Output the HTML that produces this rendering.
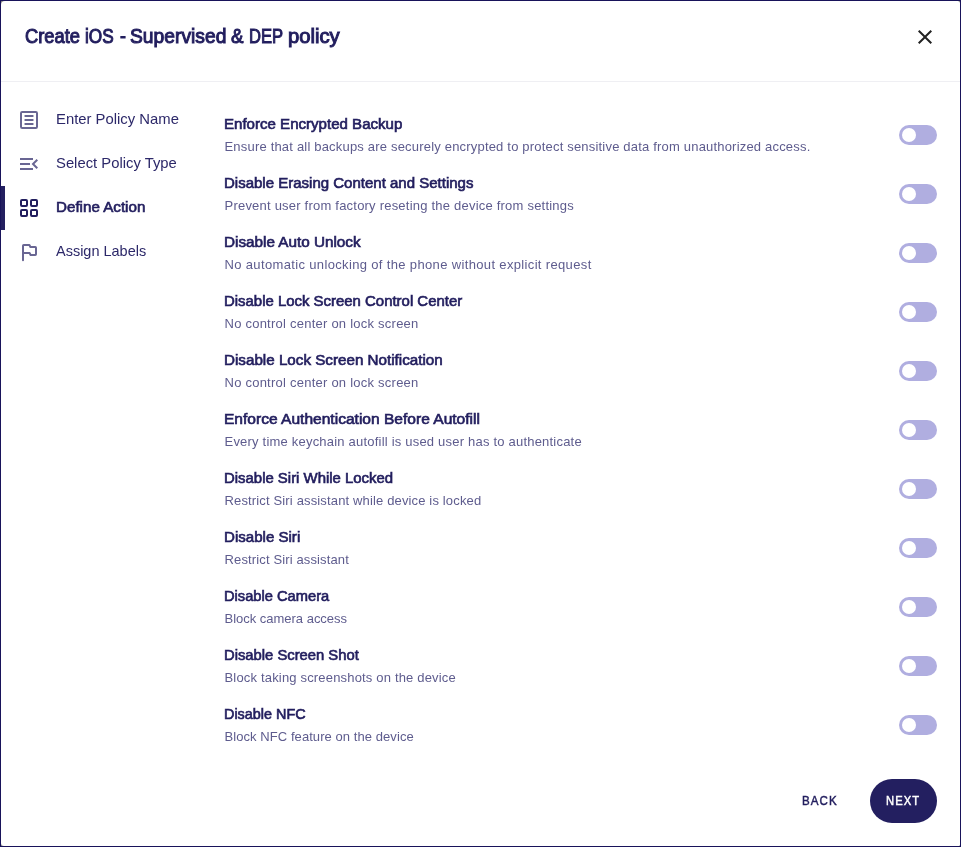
<!DOCTYPE html>
<html lang="en">
<head>
<meta charset="utf-8">
<title>Create iOS - Supervised &amp; DEP policy</title>
<style>
  html, body { margin: 0; padding: 0; }
  body {
    width: 961px; height: 847px; overflow: hidden; position: relative;
    background: #808080;
    font-family: "Liberation Sans", "DejaVu Sans", sans-serif;
    color: #221e5e;
  }
  .dialog {
    position: absolute; left: 1px; top: 1px; width: 959px; height: 845px;
    background: #fff; border-radius: 4px 2.5px 1.5px 3px; overflow: hidden;
  }
  .frame { position: absolute; left: 0; top: 0; width: 959px; height: 845px; border: 1px solid #18135a; pointer-events: none; }
  .t { position: absolute; white-space: nowrap; transform-origin: 0 50%; line-height: 20px; height: 20px; }
  .header-title { position: absolute; left: 0; top: 13px; height: 44px; width: 600px; font-size: 19.9px; font-weight: normal; -webkit-text-stroke: 1px #221e5e; color: #221e5e; }
  .header-title .t { top: 0; height: 44px; line-height: 44px; }
  .close { position: absolute; left: 912px; top: 24px; width: 24px; height: 24px; }
  .divider { position: absolute; left: 0; top: 80px; width: 959px; height: 1px; background: #efeff3; }

  .nav-item { position: absolute; left: 0; width: 210px; height: 44px; }
  .nav-item svg { position: absolute; left: 16px; top: 10px; width: 24px; height: 24px; fill: #696693; }
  .nav-item .t { left: 55px; top: 11px; font-size: 15px; color: #2c2869; }
  .nav-item.active .t { -webkit-text-stroke: 0.65px #221e5e; color: #221e5e; }
  .nav-item.active svg { fill: #221e5e; }
  .nav-item.active::before { content: ""; position: absolute; left: 0; top: 0; width: 4px; height: 44px; background: #231f60; }

  .row { position: absolute; left: 223.5px; width: 720.5px; height: 59px; }
  .row .title { left: -0.5px; top: 13px; font-size: 14.7px; font-weight: normal; -webkit-text-stroke: 0.65px #221e5e; color: #221e5e; }
  .row .desc { left: 0; top: 36px; font-size: 13px; color: #5e5c8e; }
  .toggle { position: absolute; left: 674.5px; top: 24px; width: 38px; height: 20px; border-radius: 10px; background: #b0aee0; }
  .toggle::after { content: ""; position: absolute; left: 3px; top: 3px; width: 14px; height: 14px; border-radius: 50%; background: #fff; }

  .btn { position: absolute; height: 44px; top: 778px; border-radius: 22px; font-size: 13.6px; font-weight: normal; -webkit-text-stroke: 0.5px; letter-spacing: 1.3px; }
  .btn .t { top: 12.4px; }
  .back { left: 784px; width: 70px; color: #221e5e; }
  .next { left: 869px; width: 67px; background: #231f60; color: #fff; }
</style>
</head>
<body>
<div class="dialog">
  <div class="header-title"><span class="t" style="left:23.80px;transform:scaleX(0.9225)">Create</span> <span class="t" style="left:83.90px;transform:scaleX(0.8656)">iOS</span> <span class="t" style="left:118.80px;transform:scaleX(0.8938)">-</span> <span class="t" style="left:128.80px;transform:scaleX(0.9681)">Supervised</span> <span class="t" style="left:229.80px;transform:scaleX(0.9415)">&amp;</span> <span class="t" style="left:247.50px;transform:scaleX(0.8336)">DEP</span> <span class="t" style="left:286.80px;transform:scaleX(1.0162)">policy</span> </div>
  <svg class="close" viewBox="0 0 24 24"><path d="M19 6.41L17.59 5 12 10.59 6.41 5 5 6.41 10.59 12 5 17.59 6.41 19 12 13.41 17.59 19 19 17.59 13.41 12z" fill="#222"/></svg>
  <div class="divider"></div>

  <div class="nav-item" style="top:97px">
    <svg viewBox="0 0 24 24"><g fill="none" stroke="#696693" stroke-width="2"><rect x="4" y="4" width="16" height="16" rx="1.2"/><path d="M8.3 8h7.4M8.3 12h7.4M8.3 16h7.4" stroke-linecap="round"/></g></svg>
    <div class="t" style="transform:scaleX(0.9894)">Enter Policy Name</div>
  </div>
  <div class="nav-item" style="top:141px">
    <svg viewBox="0 0 24 24"><path d="M3 18h13v-2H3v2zm0-5h10v-2H3v2zm0-7v2h13V6H3zm18 9.59L17.42 12 21 8.41 19.59 7l-5 5 5 5L21 15.59z"/></svg>
    <div class="t" style="transform:scaleX(0.9877)">Select Policy Type</div>
  </div>
  <div class="nav-item active" style="top:185px">
    <svg viewBox="0 0 24 24"><g fill="none" stroke="#221e5e" stroke-width="2"><rect x="4" y="4" width="6" height="6" rx="1"/><rect x="14" y="4" width="6" height="6" rx="1"/><rect x="4" y="14" width="6" height="6" rx="1"/><rect x="14" y="14" width="6" height="6" rx="1"/></g></svg>
    <div class="t" style="transform:scaleX(1.0106)">Define Action</div>
  </div>
  <div class="nav-item" style="top:229px">
    <svg viewBox="0 0 24 24"><path d="M6 20.3V5.7Q6 5 6.7 5H12.4L13.4 7H18.3Q19 7 19 7.7V14.3Q19 15 18.3 15H13.6L12.6 13H6" fill="none" stroke="#696693" stroke-width="2" stroke-linejoin="round" stroke-linecap="round"/></svg>
    <div class="t" style="transform:scaleX(0.9656)">Assign Labels</div>
  </div>

  <div class="row" style="top:100px"><div class="t title" style="transform:scaleX(1.0256)">Enforce Encrypted Backup</div><div class="t desc" style="letter-spacing:0.191px">Ensure that all backups are securely encrypted to protect sensitive data from unauthorized access.</div><div class="toggle"></div></div>
  <div class="row" style="top:159px"><div class="t title" style="transform:scaleX(1.0218)">Disable Erasing Content and Settings</div><div class="t desc" style="letter-spacing:0.216px">Prevent user from factory reseting the device from settings</div><div class="toggle"></div></div>
  <div class="row" style="top:218px"><div class="t title" style="transform:scaleX(1.0389)">Disable Auto Unlock</div><div class="t desc" style="letter-spacing:0.349px">No automatic unlocking of the phone without explicit request</div><div class="toggle"></div></div>
  <div class="row" style="top:277px"><div class="t title" style="transform:scaleX(1.0165)">Disable Lock Screen Control Center</div><div class="t desc" style="letter-spacing:0.238px">No control center on lock screen</div><div class="toggle"></div></div>
  <div class="row" style="top:336px"><div class="t title" style="transform:scaleX(1.0346)">Disable Lock Screen Notification</div><div class="t desc" style="letter-spacing:0.238px">No control center on lock screen</div><div class="toggle"></div></div>
  <div class="row" style="top:395px"><div class="t title" style="transform:scaleX(1.0590)">Enforce Authentication Before Autofill</div><div class="t desc" style="letter-spacing:0.208px">Every time keychain autofill is used user has to authenticate</div><div class="toggle"></div></div>
  <div class="row" style="top:454px"><div class="t title" style="transform:scaleX(1.0153)">Disable Siri While Locked</div><div class="t desc" style="letter-spacing:0.148px">Restrict Siri assistant while device is locked</div><div class="toggle"></div></div>
  <div class="row" style="top:513px"><div class="t title" style="transform:scaleX(1.0264)">Disable Siri</div><div class="t desc" style="letter-spacing:0.135px">Restrict Siri assistant</div><div class="toggle"></div></div>
  <div class="row" style="top:572px"><div class="t title" style="transform:scaleX(0.9990)">Disable Camera</div><div class="t desc" style="letter-spacing:-0.015px">Block camera access</div><div class="toggle"></div></div>
  <div class="row" style="top:631px"><div class="t title" style="transform:scaleX(1.0067)">Disable Screen Shot</div><div class="t desc" style="letter-spacing:0.176px">Block taking screenshots on the device</div><div class="toggle"></div></div>
  <div class="row" style="top:690px"><div class="t title" style="transform:scaleX(0.9798)">Disable NFC</div><div class="t desc" style="letter-spacing:0.068px">Block NFC feature on the device</div><div class="toggle"></div></div>

  <div class="btn back"><div class="t" style="left:17px;transform:scaleX(0.8495)">BACK</div></div>
  <div class="btn next"><div class="t" style="left:16px;transform:scaleX(0.8234)">NEXT</div></div>
</div>
<div class="frame"></div>
</body>
</html>
